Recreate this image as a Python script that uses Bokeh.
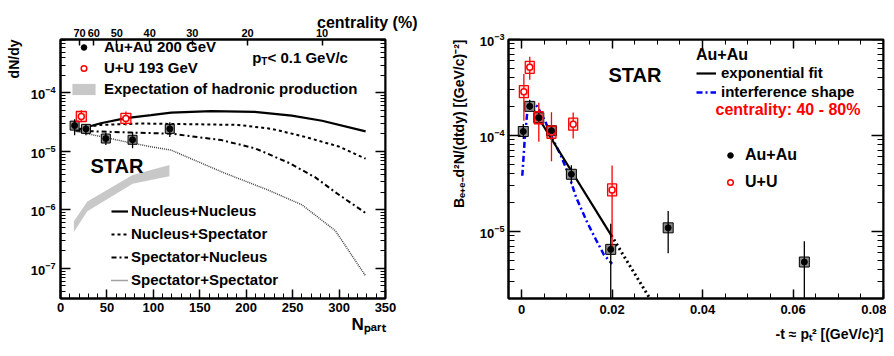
import math
from bokeh.plotting import figure
from bokeh.layouts import row
from bokeh.models import (FixedTicker, LinearAxis, LogAxis, Label, Legend, LegendItem,
                          CustomJSTickFormatter, Title)
from bokeh.embed import file_html
from bokeh.resources import INLINE

FONT = "Liberation Sans"

# ---------------- left panel data (dN/dy vs Npart) ----------------
au_npart = [15.2, 27.4, 48.8, 77.6, 117.7]
au_dndy = [2.76e-5, 2.43e-5, 1.66e-5, 1.58e-5, 2.43e-5]
au_dndy_hi = [3.56e-5, 2.87e-5, 2.06e-5, 2.15e-5, 3.15e-5]
au_dndy_lo = [1.88e-5, 1.88e-5, 1.29e-5, 1.13e-5, 1.77e-5]

uu_npart = [22.4, 70.4]
uu_dndy = [3.95e-5, 3.66e-5]
uu_dndy_hi = [5.04e-5, 4.79e-5]
uu_dndy_lo = [3.15e-5, 2.76e-5]

band_npart = [14.4, 28.9, 77.7, 117.3]
band_lo = [4.2e-7, 9.5e-7, 2.79e-6, 3.75e-6]
band_hi = [6.4e-7, 1.39e-6, 3.94e-6, 5.86e-6]

nn_npart = [16.3, 43.3, 70.4, 97.5, 119.2, 162.5, 209.0, 249.0, 281.7, 328.6]
nn_y = [2.3e-5, 3.03e-5, 3.71e-5, 4.16e-5, 4.6e-5, 4.9e-5, 4.75e-5, 4.1e-5, 3.34e-5, 2.2e-5]

ns_npart = [16.3, 43.3, 86.7, 119.2, 191.4, 227.5, 263.6, 299.8, 328.6]
ns_y = [2.45e-5, 2.84e-5, 3.0e-5, 2.95e-5, 2.84e-5, 2.43e-5, 1.77e-5, 1.21e-5, 7.5e-6]

sn_npart = [16.3, 65.0, 119.2, 173.3, 209.4, 245.6, 274.4, 296.0, 328.3]
sn_y = [2.25e-5, 2.13e-5, 2.01e-5, 1.56e-5, 1.13e-5, 6.4e-6, 3.6e-6, 2.0e-6, 8.9e-7]

ss_npart = [16.3, 43.3, 70.0, 97.5, 119.2, 175.0, 224.0, 260.0, 296.0, 328.6]
ss_y = [2.2e-5, 1.8e-5, 1.46e-5, 1.2e-5, 1.05e-5, 4.37e-6, 2.17e-6, 1.22e-6, 4.4e-7, 7.4e-8]

cent_npart = [20.6, 35.8, 60.7, 96.0, 142.0, 201.5, 281.7]
cent_labels = ["70", "60", "50", "40", "30", "20", "10"]

# ---------------- right panel data (dN/dt vs -t) ----------------
au_t = [0.00037, 0.0018, 0.0038, 0.0066, 0.011, 0.0197, 0.0324, 0.0625]
au_v = [1.1e-4, 2.01e-4, 1.53e-4, 1.12e-4, 3.94e-5, 6.5e-6, 1.09e-5, 4.8e-6]
au_v_hi = [1.32e-4, 2.35e-4, 1.7e-4, 1.24e-4, 4.9e-5, 1.2e-5, 1.63e-5, 7.9e-6]
au_v_lo = [9.2e-5, 1.86e-4, 1.38e-4, 1.0e-4, 3.1e-5, 1e-7, 5.94e-6, 1e-7]

uu_t = [0.0005, 0.0018, 0.0038, 0.0066, 0.0114, 0.020]
uu_v = [2.86e-4, 5.13e-4, 1.53e-4, 1.08e-4, 1.31e-4, 2.71e-5]
uu_v_hi = [4.38e-4, 6.6e-4, 2.19e-4, 1.75e-4, 1.73e-4, 4.85e-5]
uu_v_lo = [1.42e-4, 3.8e-4, 8.6e-5, 5.4e-5, 9.3e-5, 6.5e-6]

fit_t = [0.00148, 0.01982]
fit_v = [2.26e-4, 9.1e-6]
ext_t = [0.01982, 0.02835]
ext_v = [9.1e-6, 2.0e-6]

intf_t = [0.00015, 0.0007, 0.0013, 0.0024, 0.0035, 0.0053, 0.0068, 0.0086,
          0.0105, 0.0120, 0.0145, 0.0165, 0.0182, 0.0200]
intf_v = [3.8e-5, 9.3e-5, 1.86e-4, 2.18e-4, 2.0e-4, 1.37e-4, 9.3e-5, 6.3e-5,
          3.8e-5, 2.3e-5, 1.24e-5, 8.1e-6, 5.7e-6, 4.6e-6]

# ---------------- helpers ----------------
W = {' ': 278, '(': 333, ')': 333, '+': 584, '-': 333, '.': 278, '/': 278, ':': 333,
     '<': 584, '%': 889, '[': 333, ']': 333, 'A': 722, 'N': 722, 'T': 611, 'V': 667,
     'G': 778, 'a': 556, 'c': 556, 'd': 611, 'e': 556, 'p': 611, 'r': 389, 't': 333, 'y': 556}


def tw(s, size):
    return sum(W.get(ch, 556) for ch in s) * size / 1000.0


def put(fig, text, fx, fy, size, color="black", angle=0.0):
    fig.add_layout(Label(x=fx, y=fy, x_units="screen", y_units="screen", text=text,
                         text_font=FONT, text_font_style="bold", text_font_size=f"{size}px",
                         text_color=color, angle=angle, text_align="left",
                         text_baseline="alphabetic"))


def side_title(fig, text, side, size, offset=0, standoff=0, valign="top"):
    fig.add_layout(Title(text=text, align="right", offset=offset, standoff=standoff,
                         vertical_align=valign, text_font=FONT, text_font_style="bold",
                         text_font_size=f"{size}px", text_color="black"), side)


def style_axis(ax, labels=True, standoff=4, tin=9, mtin=5, size="13px"):
    ax.axis_line_color = "black"
    ax.axis_line_width = 2
    ax.major_tick_in = tin
    ax.major_tick_out = 0
    ax.minor_tick_in = mtin
    ax.minor_tick_out = 0
    ax.major_tick_line_color = "black"
    ax.major_tick_line_width = 1.5
    ax.minor_tick_line_color = "black"
    ax.minor_tick_line_width = 1
    ax.major_label_text_font = FONT
    ax.major_label_text_font_style = "bold"
    ax.major_label_text_font_size = size
    ax.major_label_text_color = "black"
    ax.major_label_standoff = standoff
    if not labels:
        ax.formatter = CustomJSTickFormatter(code="return ''")
        ax.major_label_text_font_size = "0px"
        ax.major_label_standoff = 0


def log_ticker(lo_exp, hi_exp):
    majors = [10.0 ** e for e in range(lo_exp, hi_exp + 1)]
    minors = [k * 10.0 ** e for e in range(lo_exp - 1, hi_exp + 1) for k in range(1, 10)]
    return FixedTicker(ticks=majors, minor_ticks=minors)


def mk_legend(items, fx, fy, gw, gh, spacing, standoff, size, **kw):
    return Legend(items=items, location=(fx, fy), orientation="vertical",
                  glyph_width=gw, glyph_height=gh, label_height=gh, label_width=10,
                  spacing=spacing, label_standoff=standoff, padding=0, margin=0,
                  border_line_alpha=0, background_fill_alpha=0,
                  label_text_font=FONT, label_text_font_style="bold",
                  label_text_font_size=f"{size}px", label_text_color="black", **kw)


def base_fig(**kw):
    f = figure(y_axis_type="log", output_backend="svg", toolbar_location=None, **kw)
    f.title.visible = False
    f.xgrid.visible = False
    f.ygrid.visible = False
    f.outline_line_color = "black"
    f.outline_line_width = 2
    f.background_fill_color = "white"
    f.border_fill_color = "white"
    return f


# ================= LEFT PANEL =================
YL = (3.05e-8, 8.2e-4)
pl = base_fig(width=438, height=348, x_range=(0, 350), y_range=YL,
              min_border_left=60, min_border_right=53, min_border_top=33, min_border_bottom=48)

pl.xaxis.ticker = FixedTicker(ticks=list(range(0, 351, 50)), minor_ticks=list(range(0, 351, 10)))
style_axis(pl.xaxis[0], standoff=4, tin=9, mtin=5)
pl.yaxis.ticker = log_ticker(-7, -4)
style_axis(pl.yaxis[0], standoff=5, tin=10, mtin=5)

ax_r = LogAxis(ticker=log_ticker(-7, -4), fixed_location=350)
style_axis(ax_r, labels=False, tin=10, mtin=5)
pl.add_layout(ax_r, "right")

# centrality scale on top
ax_top = LinearAxis(ticker=FixedTicker(ticks=cent_npart, minor_ticks=[]),
                    major_label_overrides={n: s for n, s in zip(cent_npart, cent_labels)})
style_axis(ax_top, standoff=3, tin=6, mtin=0, size="11px")
pl.add_layout(ax_top, "above")
side_title(pl, "centrality (%)", "above", 16, offset=-32, standoff=-11, valign="bottom")

side_title(pl, "dN/dy", "left", 14, standoff=8)
side_title(pl, "Nₚₐᵣₜ", "below", 17, standoff=0)

r_band = pl.varea(x=band_npart, y1=band_lo, y2=band_hi, fill_color="#c8c8c8")

r_nn = pl.line(nn_npart, nn_y, line_color="black", line_width=2.2)
r_ns = pl.line(ns_npart, ns_y, line_color="black", line_width=2, line_dash="3 3")
r_sn = pl.line(sn_npart, sn_y, line_color="black", line_width=2, line_dash="5 3 2 3")
r_ss = pl.line(ss_npart, ss_y, line_color="#444444", line_width=1.5, line_dash="1 1")

pl.scatter(au_npart, au_dndy, marker="square", size=9, fill_color="#8c8c8c",
           line_color="black", line_width=1)
pl.scatter(uu_npart, uu_dndy, marker="square", size=10, fill_color="red", fill_alpha=0.12,
           line_color="red", line_width=1.3)
pl.segment(x0=au_npart, y0=au_dndy_lo, x1=au_npart, y1=au_dndy_hi, line_color="black", line_width=1.3)
pl.segment(x0=uu_npart, y0=uu_dndy_lo, x1=uu_npart, y1=uu_dndy_hi, line_color="red", line_width=1.3)
r_au = pl.scatter(au_npart, au_dndy, marker="circle", size=6, fill_color="black", line_color="black")
r_uu = pl.scatter(uu_npart, uu_dndy, marker="circle", size=6, fill_color="white",
                  line_color="red", line_width=1.5)

pl.add_layout(mk_legend([LegendItem(label="Au+Au 200 GeV", renderers=[r_au]),
                         LegendItem(label="U+U 193 GeV", renderers=[r_uu]),
                         LegendItem(label="Expectation of hadronic production", renderers=[r_band])],
                        9, 201, 29, 14, 4, 6, 15))
pl.add_layout(mk_legend([LegendItem(label="Nucleus+Nucleus", renderers=[r_nn]),
                         LegendItem(label="Nucleus+Spectator", renderers=[r_ns]),
                         LegendItem(label="Spectator+Nucleus", renderers=[r_sn]),
                         LegendItem(label="Spectator+Spectator", renderers=[r_ss])],
                        51, 10, 17, 16, 6, 3, 15))

# texts inside the frame (positions relative to the frame's bottom-left corner)
x0 = 191.7
put(pl, "p", x0, 241, 15)
put(pl, "T", x0 + tw("p", 15), 237, 10)
put(pl, " < 0.1 GeV/c", x0 + tw("p", 15) + tw("T", 10), 241, 15)
put(pl, "STAR", 30, 133, 20)

# ================= RIGHT PANEL =================
YR = (2e-6, 1e-3)
pr = base_fig(width=448, height=348, x_range=(-0.0029, 0.08), y_range=YR,
              min_border_left=70, min_border_right=3, min_border_top=39, min_border_bottom=43)

xt_major = [0, 0.02, 0.04, 0.06, 0.08]
xt_minor = [i * 0.005 for i in range(0, 17)]
pr.xaxis.ticker = FixedTicker(ticks=xt_major, minor_ticks=xt_minor)
style_axis(pr.xaxis[0], standoff=6, tin=9, mtin=5)
pr.yaxis.ticker = log_ticker(-5, -3)
style_axis(pr.yaxis[0], standoff=4, tin=12, mtin=6)

axr_top = LinearAxis(ticker=FixedTicker(ticks=xt_major, minor_ticks=xt_minor), fixed_location=YR[1])
style_axis(axr_top, labels=False, tin=9, mtin=5)
pr.add_layout(axr_top, "above")
axr_r = LogAxis(ticker=log_ticker(-5, -3), fixed_location=0.08)
style_axis(axr_r, labels=False, tin=12, mtin=6)
pr.add_layout(axr_r, "right")

side_title(pr, "Bₑ₊ₑ₋d²N/(dtdy) [(GeV/c)⁻²]", "left", 14, standoff=16)
side_title(pr, "-t ≈ pₜ² [(GeV/c)²]", "below", 14, standoff=14, valign="bottom")

r_intf = pr.line(intf_t, intf_v, line_color="#0000ff", line_width=2.5, line_dash="6 3 2 3")
r_fit = pr.line(fit_t, fit_v, line_color="black", line_width=2.2)
pr.line(ext_t, ext_v, line_color="black", line_width=3, line_dash="2 3")

pr.scatter(au_t, au_v, marker="square", size=10, fill_color="#8c8c8c", line_color="black", line_width=1)
pr.rect(uu_t, uu_v, width=9, height=12, width_units="screen", height_units="screen",
        fill_color="red", fill_alpha=0.12, line_color="red", line_width=1.3)
pr.segment(x0=uu_t, y0=uu_v_lo, x1=uu_t, y1=uu_v_hi, line_color="red", line_width=1.3)
pr.segment(x0=au_t, y0=au_v_lo, x1=au_t, y1=au_v_hi, line_color="black", line_width=1.3)
r_uu2 = pr.scatter(uu_t, uu_v, marker="circle", size=6, fill_color="white", line_color="red", line_width=1.5)
r_au2 = pr.scatter(au_t, au_v, marker="circle", size=6, fill_color="black", line_color="black")

pr.add_layout(mk_legend([LegendItem(label="exponential fit", renderers=[r_fit]),
                         LegendItem(label="interference shape", renderers=[r_intf])],
                        188, 198, 20, 16, 2, 5, 15,
                        title="Au+Au", title_text_font=FONT, title_text_font_style="bold",
                        title_text_font_size="16px", title_text_color="black", title_standoff=0))
pr.add_layout(mk_legend([LegendItem(label="Au+Au", renderers=[r_au2]),
                         LegendItem(label="U+U", renderers=[r_uu2])],
                        215, 107, 14, 16, 9, 8, 16))

put(pr, "STAR", 100, 223.3, 20)
put(pr, "centrality: 40 - 80%", 207, 189.5, 16, color="red")

layout = row(pl, pr)
open("out.html", "w").write(file_html(layout, INLINE))
